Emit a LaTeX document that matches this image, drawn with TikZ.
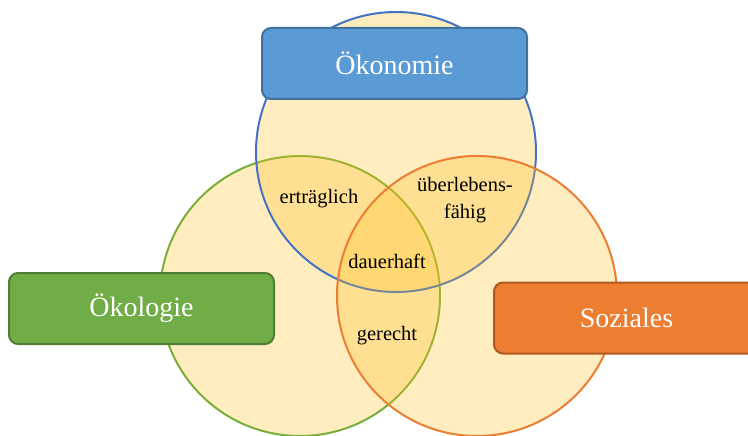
\documentclass[tikz,border=0pt]{standalone}
\usepackage{fontspec}
\setmainfont{Liberation Serif}
\definecolor{ringfill}{HTML}{FFBF1E}
\definecolor{ecoblue}{HTML}{4472C4}
\definecolor{ecogreen}{HTML}{7AAE3A}
\definecolor{ecoorange}{HTML}{ED7D31}
\definecolor{boxblue}{HTML}{5B9BD5}
\definecolor{boxblueline}{HTML}{41719C}
\definecolor{boxgreen}{HTML}{70AD47}
\definecolor{boxgreenline}{HTML}{507E32}
\definecolor{boxorange}{HTML}{ED7D31}
\definecolor{boxorangeline}{HTML}{AE5A21}
\tikzset{
  ring/.style={circle, minimum size=280pt, inner sep=0pt, line width=2pt, fill=ringfill, fill opacity=0.28},
  labelbox/.style={rounded corners=9pt, minimum width=265pt, minimum height=71pt, line width=2pt, text=white, font=\fontsize{28}{34}\selectfont},
  lenslabel/.style={font=\fontsize{20.5}{27}\selectfont, align=center, text=black, inner sep=0pt}
}
\begin{document}
\begin{tikzpicture}[x=1pt,y=-1pt]
\useasboundingbox (0,0) rectangle (748,436);
\begin{scope}
\clip (0,0) rectangle (748,436);
\node[ring, draw=ecogreen] (oekol) at (300,296) {};
\node[ring, draw=ecoblue] (oekon) at (396,152) {};
\node[ring, draw=ecoorange] (sozi) at (477,296) {};

\node[lenslabel] (ertr) at (319,199) {erträglich};
\node[lenslabel] (ueber) at (465,200) {überlebens-\\fähig};
\node[lenslabel] (dauer) at (387,261) {dauerhaft};
\node[lenslabel] (ger) at (387,336) {gerecht};

\node[labelbox, fill=boxblue, draw=boxblueline] (bokon) at (394.5,63.5) {Ökonomie};
\node[labelbox, fill=boxgreen, draw=boxgreenline] (bokol) at (141.5,308.5) {Ökologie};
\node[labelbox, fill=boxorange, draw=boxorangeline] (bsoz) at (626.5,318) {Soziales};
\end{scope}
\end{tikzpicture}
\end{document}
